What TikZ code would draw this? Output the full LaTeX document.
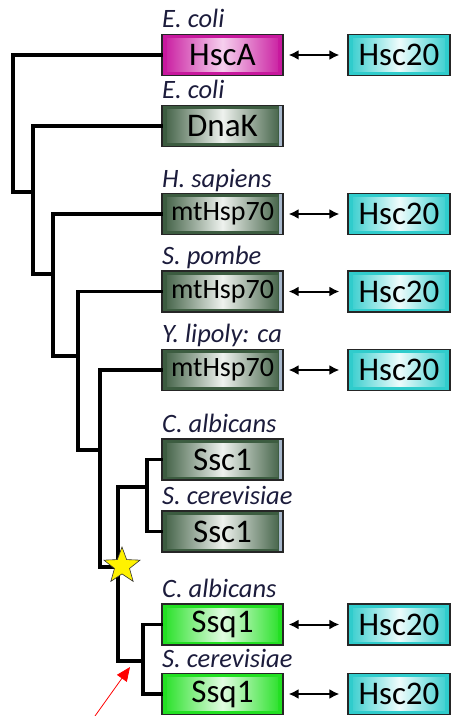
\documentclass[tikz,border=0pt]{standalone}
\usepackage{fontspec}
\setmainfont{Carlito}
\usetikzlibrary{shapes.geometric,arrows.meta}

\definecolor{magOut}{HTML}{C8189E}
\definecolor{magIn}{HTML}{F6D0EE}
\definecolor{grnOut}{HTML}{3C5C40}
\definecolor{grnIn}{HTML}{EEF2EE}
\definecolor{limeOut}{HTML}{22E022}
\definecolor{limeIn}{HTML}{E2FCE2}
\definecolor{cyanOut}{HTML}{30CCCC}
\definecolor{cyanIn}{HTML}{EEFCFC}
\definecolor{edgeBlue}{HTML}{A8B8CC}
\definecolor{labelInk}{HTML}{1C1C3C}

\tikzset{
  bevel/.style n args={3}{
    draw=black!85, line width=1.2pt, fill=#1,
    minimum height=41pt, inner sep=0pt, text=black,
    font=\fontsize{33}{33}\selectfont,
    path picture={
      \shade[left color=#1, right color=#1, middle color=#2]
        ([xshift=5pt,yshift=-4pt]path picture bounding box.north west)
        rectangle ([xshift=-5pt,yshift=4pt]path picture bounding box.south east);
      \fill[#3] ([xshift=-4pt]path picture bounding box.north east)
        rectangle (path picture bounding box.south east);
    }
  },
  protbox/.style n args={3}{bevel={#1}{#2}{#3}, minimum width=121pt},
  greenbox/.style={protbox={grnOut}{grnIn}{edgeBlue}},
  magbox/.style={protbox={magOut}{magIn}{magOut}},
  limebox/.style={protbox={limeOut}{limeIn}{limeOut}},
  partner/.style={bevel={cyanOut}{cyanIn}{cyanOut}, minimum width=102pt},
  smallname/.style={font=\fontsize{28}{28}\selectfont},
  species/.style={anchor=base west, inner sep=0pt, text=labelInk,
    font=\fontsize{26.5}{26.5}\selectfont\itshape},
  branch/.style={line width=3.2pt, line join=miter, line cap=rect},
  bind/.style={line width=2pt, {Latex[length=10pt,width=10pt]}-{Latex[length=10pt,width=10pt]}},
}

\begin{document}
\begin{tikzpicture}[x=1pt, y=-1pt]
\useasboundingbox (0,0) rectangle (451,716);

% proteins (left column)
\node[magbox] (hsca) at (222.5,55) {HscA};
\node[greenbox] (dnak) at (222.5,126) {DnaK};
\node[greenbox, smallname] (mtA) at (222.5,214) {mtHsp70};
\node[greenbox, smallname] (mtB) at (222.5,291.5) {mtHsp70};
\node[greenbox, smallname] (mtC) at (222.5,370) {mtHsp70};
\node[greenbox] (sscA) at (222.5,459.5) {Ssc1};
\node[greenbox] (sscB) at (222.5,531.5) {Ssc1};
\node[limebox] (ssqA) at (222.5,624.5) {Ssq1};
\node[limebox] (ssqB) at (222.5,694) {Ssq1};

% species names
\node[species] (l1) at (162,27) {E. coli};
\node[species] (l2) at (162,98) {E. coli};
\node[species] (l3) at (162,187) {H. sapiens};
\node[species] (l4) at (162,264) {S. pombe};
\node[species] (l5) at (162,342) {Y. lipoly: ca};
\node[species] (l6) at (162,432) {C. albicans};
\node[species] (l7) at (162,504) {S. cerevisiae};
\node[species] (l8) at (162,597) {C. albicans};
\node[species] (l9) at (162,667) {S. cerevisiae};

% Hsc20 partners
\node[partner] (p1) at (399,55) {Hsc20};
\node[partner] (p3) at (399,214) {Hsc20};
\node[partner] (p4) at (399,291.5) {Hsc20};
\node[partner] (p5) at (399,370) {Hsc20};
\node[partner] (p8) at (399,624.5) {Hsc20};
\node[partner] (p9) at (399,694) {Hsc20};

\foreach \a/\b in {hsca/p1, mtA/p3, mtB/p4, mtC/p5, ssqA/p8, ssqB/p9}
  \draw[bind] ([xshift=5pt]\a.east) -- ([xshift=-8pt]\b.west);

% tree junctions
\coordinate (j1) at (13,192);
\coordinate (j2) at (33,274);
\coordinate (j3) at (53,356);
\coordinate (j4) at (78,450);
\coordinate (j5) at (100,567);
\coordinate (k5) at (118,567);
\coordinate (kTop) at (118,487);
\coordinate (kBot) at (118,661);
\coordinate (s1) at (147,487);
\coordinate (s2) at (143,661);

\draw[branch] (hsca.west) -| (j1) -- (j1 -| j2);
\draw[branch] (dnak.west) -| (j2) -- (j2 -| j3);
\draw[branch] (mtA.west) -| (j3) -- (j3 -| j4);
\draw[branch] (mtB.west) -| (j4) -- (j4 -| j5);
\draw[branch] (mtC.west) -| (j5) -- (k5);
\draw[branch] (sscA.west) -| (s1) |- (sscB.west);
\draw[branch] (ssqA.west) -| (s2) |- (ssqB.west);
\draw[branch] (s1) -- (kTop) -- (kBot) -- (s2);

% duplication event
\node[star, star points=5, star point ratio=2.4, draw=black!80, line width=0.6pt,
      fill=yellow, minimum size=38pt, inner sep=0pt] (dup) at (122,566) {};

% pointer to the Ssq1 branch
\coordinate (tail) at (95,716);
\coordinate (tip) at (130,667);
\draw[red, line width=0.8pt, -{Triangle[length=14pt,width=12pt]}] (tail) -- (tip);
\end{tikzpicture}
\end{document}
